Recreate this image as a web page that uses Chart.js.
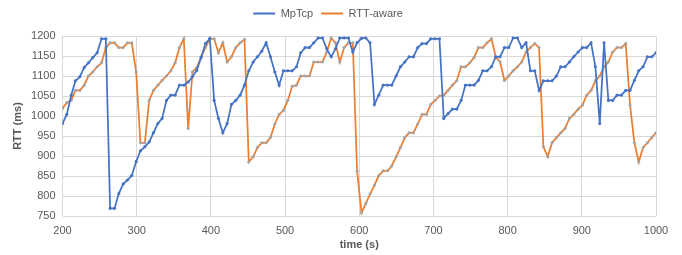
<!DOCTYPE html>
<html>
<head>
<meta charset="utf-8">
<script src="https://cdn.jsdelivr.net/npm/chart.js@4.4.1/dist/chart.umd.min.js"></script>
<style>
  html, body { margin: 0; padding: 0; background: #ffffff; }
  #wrap { width: 682px; height: 255px; position: relative; }
</style>
</head>
<body>
<div id="wrap"><canvas id="c" width="682" height="255"></canvas></div>
<script>
// Sample times (s)
const timeS = [
  200.0, 205.8, 211.7, 217.5, 223.4, 229.2, 235.0, 240.9, 246.7, 252.6,
  258.4, 264.2, 270.1, 275.9, 281.8, 287.6, 293.4, 299.3, 305.1, 311.0,
  316.8, 322.6, 328.5, 334.3, 340.2, 346.0, 351.8, 357.7, 363.5, 369.4,
  375.2, 381.0, 386.9, 392.7, 398.6, 404.4, 410.2, 416.1, 421.9, 427.8,
  433.6, 439.4, 445.3, 451.1, 457.0, 462.8, 468.6, 474.5, 480.3, 486.2,
  492.0, 497.8, 503.7, 509.5, 515.4, 521.2, 527.0, 532.9, 538.7, 544.6,
  550.4, 556.2, 562.1, 567.9, 573.8, 579.6, 585.4, 591.3, 597.1, 603.0,
  608.8, 614.6, 620.5, 626.3, 632.2, 638.0, 643.8, 649.7, 655.5, 661.4,
  667.2, 673.0, 678.9, 684.7, 690.6, 696.4, 702.2, 708.1, 713.9, 719.8,
  725.6, 731.4, 737.3, 743.1, 749.0, 754.8, 760.6, 766.5, 772.3, 778.2,
  784.0, 789.8, 795.7, 801.5, 807.4, 813.2, 819.0, 824.9, 830.7, 836.6,
  842.4, 848.2, 854.1, 859.9, 865.8, 871.6, 877.4, 883.3, 889.1, 895.0,
  900.8, 906.6, 912.5, 918.3, 924.2, 930.0, 935.8, 941.7, 947.5, 953.4,
  959.2, 965.0, 970.9, 976.7, 982.6, 988.4, 994.2, 1000.0
];

// RTT (ms) – MpTcp
const mptcpRtt = [
  981, 1004, 1052, 1088, 1098, 1121, 1133, 1146, 1158, 1193,
  1193, 769, 769, 806, 830, 840, 851, 886, 913, 923,
  935, 958, 981, 994, 1039, 1052, 1052, 1077, 1077, 1085,
  1098, 1114, 1146, 1181, 1194, 1039, 994, 958, 981, 1029,
  1039, 1052, 1077, 1113, 1135, 1148, 1162, 1183, 1148, 1110,
  1077, 1113, 1113, 1113, 1123, 1158, 1171, 1171, 1183, 1195,
  1195, 1168, 1148, 1168, 1195, 1195, 1195, 1160, 1183, 1194,
  1195, 1183, 1029, 1052, 1077, 1077, 1077, 1100, 1123, 1135,
  1148, 1148, 1171, 1181, 1181, 1193, 1193, 1193, 994, 1006,
  1017, 1017, 1039, 1077, 1077, 1077, 1089, 1113, 1113, 1123,
  1148, 1148, 1171, 1171, 1195, 1195, 1171, 1183, 1113, 1113,
  1064, 1088, 1088, 1088, 1100, 1123, 1123, 1135, 1148, 1160,
  1171, 1171, 1183, 1123, 981, 1183, 1039, 1039, 1052, 1052,
  1064, 1064, 1089, 1113, 1123, 1148, 1148, 1158
];

// RTT (ms) – RTT-aware
const rttAwareRtt = [
  1019, 1033, 1039, 1064, 1064, 1077, 1100, 1110, 1123, 1133,
  1171, 1183, 1183, 1171, 1171, 1183, 1183, 1110, 933, 933,
  1039, 1064, 1077, 1089, 1100, 1113, 1133, 1171, 1193, 969,
  1110, 1121, 1148, 1171, 1193, 1193, 1158, 1183, 1135, 1148,
  1171, 1183, 1191, 885, 898, 921, 933, 933, 946, 980,
  1004, 1014, 1039, 1074, 1077, 1100, 1100, 1100, 1135, 1135,
  1135, 1160, 1195, 1183, 1135, 1171, 1183, 1183, 862, 758,
  781, 805, 827, 851, 863, 863, 875, 898, 921, 946,
  958, 958, 980, 1004, 1004, 1029, 1039, 1050, 1052, 1064,
  1077, 1088, 1123, 1123, 1133, 1146, 1171, 1171, 1183, 1193,
  1148, 1135, 1089, 1100, 1113, 1123, 1135, 1160, 1171, 1181,
  1171, 923, 898, 933, 946, 958, 969, 994, 1004, 1017,
  1027, 1052, 1064, 1088, 1100, 1123, 1135, 1160, 1171, 1171,
  1181, 1027, 933, 885, 921, 933, 946, 958
];

const seriesNames = ['MpTcp', 'RTT-aware'];
const xTickValues = [200, 300, 400, 500, 600, 700, 800, 900, 1000];
const yTickValues = [750, 800, 850, 900, 950, 1000, 1050, 1100, 1150, 1200];

const toPoints = (ys) => ys.map((y, i) => ({ x: timeS[i], y: y }));

const FONT = "'Liberation Sans', Arial, sans-serif";
const TXT = '#595959';

const legendSpacer = {
  id: 'legendSpacer',
  afterInit(chart) {
    const lg = chart.legend;
    if (!lg) return;
    const orig = lg.fit;
    lg.fit = function () {
      orig.call(this);
      this.height = 36;
    };
  }
};

new Chart(document.getElementById('c'), {
  type: 'line',
  data: {
    datasets: [
      {
        label: seriesNames[0],
        data: toPoints(mptcpRtt),
        borderColor: '#4472C4',
        backgroundColor: '#4472C4',
        pointBackgroundColor: '#4472C4',
        pointBorderColor: '#4472C4',
        borderWidth: 1.75,
        pointRadius: 1.3,
        pointBorderWidth: 0.5,
        tension: 0
      },
      {
        label: seriesNames[1],
        data: toPoints(rttAwareRtt),
        borderColor: '#ED7D31',
        backgroundColor: '#ED7D31',
        pointBackgroundColor: '#A5A5A5',
        pointBorderColor: '#A5A5A5',
        borderWidth: 1.75,
        pointRadius: 1.3,
        pointBorderWidth: 0.5,
        tension: 0
      }
    ]
  },
  options: {
    responsive: false,
    animation: false,
    devicePixelRatio: 1,
    layout: { padding: { left: 0, right: 26, top: 0, bottom: 0 } },
    plugins: {
      legend: {
        position: 'top',
        align: 'center',
        labels: {
          usePointStyle: true,
          pointStyle: 'line',
          pointStyleWidth: 22,
          padding: 8,
          color: TXT,
          font: { family: FONT, size: 11 },
          generateLabels(chart) {
            return chart.data.datasets.map((ds, i) => ({
              text: ds.label,
              fillStyle: ds.borderColor,
              strokeStyle: ds.borderColor,
              lineWidth: 2,
              pointStyle: 'line',
              fontColor: TXT,
              hidden: false,
              datasetIndex: i
            }));
          }
        }
      },
      tooltip: { enabled: false }
    },
    scales: {
      x: {
        type: 'linear',
        min: 200,
        max: 1000,
        afterBuildTicks(scale) { scale.ticks = xTickValues.map(v => ({ value: v })); },
        afterFit(scale) { scale.height = 39; },
        grid: { color: '#D9D9D9', lineWidth: 1, drawTicks: false },
        border: { display: false },
        ticks: {
          color: TXT, font: { family: FONT, size: 11 }, padding: 8, maxRotation: 0,
          callback: (v) => String(v)
        },
        title: {
          display: true,
          text: 'time (s)',
          color: TXT,
          font: { family: FONT, size: 11, weight: 'bold' },
          padding: { top: 0, bottom: 3.5 }
        }
      },
      y: {
        type: 'linear',
        min: 750,
        max: 1200,
        afterBuildTicks(scale) { scale.ticks = yTickValues.map(v => ({ value: v })); },
        afterFit(scale) { scale.width = 62.5; },
        grid: { color: '#D9D9D9', lineWidth: 1, drawTicks: false },
        border: { display: false },
        ticks: {
          color: TXT, font: { family: FONT, size: 11 }, padding: 7,
          callback: (v) => String(v)
        },
        title: {
          display: true,
          text: 'RTT (ms)',
          color: TXT,
          font: { family: FONT, size: 11, weight: 'bold' },
          padding: { top: 11, bottom: 0 }
        }
      }
    }
  },
  plugins: [legendSpacer]
});
</script>
</body>
</html>
